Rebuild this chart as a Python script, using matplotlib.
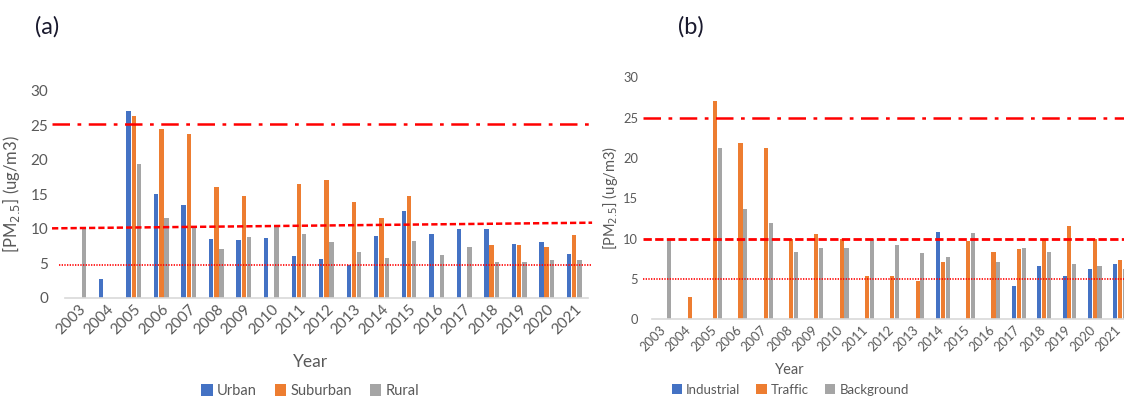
import numpy as np
import matplotlib
matplotlib.use("Agg")
import matplotlib.pyplot as plt
import matplotlib.transforms as mtransforms

plt.rcParams['font.family'] = ['Lato', 'DejaVu Sans']

years = [str(y) for y in range(2003, 2022)]
nan = np.nan

# Panel (a)
urban = [nan, 2.7, 27.0, 15.0, 13.4, 8.5, 8.3, 8.7, 6.1, 5.6, 4.7, 9.0, 12.6, 9.2, 10.0, 10.0, 7.8, 8.0, 6.3]
suburban = [nan, nan, 26.3, 24.5, 23.7, 16.1, 14.7, nan, 16.5, 17.0, 13.9, 11.5, 14.7, nan, nan, 7.6, 7.6, 7.3, 9.1]
rural = [10.0, nan, 19.4, 11.5, 10.3, 7.1, 8.8, 10.4, 9.3, 8.1, 6.6, 5.8, 8.2, 6.2, 7.4, 5.2, 5.2, 5.5, 5.4]

# Panel (b)
industrial = [nan, nan, nan, nan, nan, nan, nan, nan, nan, nan, nan, 10.8, nan, nan, 4.1, 6.6, 5.4, 6.2, 6.9]
traffic = [nan, 2.8, 27.1, 21.8, 21.2, 10.0, 10.6, 10.0, 5.4, 5.4, 4.7, 7.1, 9.7, 8.3, 8.7, 9.9, 11.6, 9.9, 7.3]
background = [10.0, nan, 21.2, 13.7, 11.9, 8.3, 8.9, 8.9, 10.0, 9.2, 8.2, 7.7, 10.7, 7.1, 8.8, 8.3, 6.9, 6.6, 6.2]

# Reference levels (a: slight tilt of the 10 line as drawn)
ref_a_dashdot = 25.2
ref_a_dash = (10.05, 10.87)
ref_a_dot = 4.7
ref_b = [25.0, 10.0, 5.0]

BLUE = '#4472C4'
ORANGE = '#ED7D31'
GRAY = '#A5A5A5'
TXT = '#595959'

fig = plt.figure(figsize=(11.24, 3.99), dpi=100)
axa = fig.add_axes([0.0578, 0.2539, 0.4653, 0.5188])
axb = fig.add_axes([0.580, 0.1997, 0.4277, 0.6065])

x = np.arange(len(years))


def style(ax, fs, pad, shift=0.0):
    ax.set_ylim(0, 30)
    ax.set_xlim(-0.5, len(years) - 0.5)
    ax.set_yticks([0, 5, 10, 15, 20, 25, 30])
    for s in ['top', 'right', 'left']:
        ax.spines[s].set_visible(False)
    ax.spines['bottom'].set_color('#d9d9d9')
    ax.spines['bottom'].set_linewidth(1.2)
    ax.tick_params(axis='both', length=0, colors=TXT, labelsize=fs)
    ax.tick_params(axis='y', pad=pad)
    ax.set_xticks(x)
    ax.set_xticklabels(years, rotation=45, ha='right', rotation_mode='anchor')
    if shift:
        offset = mtransforms.ScaledTranslation(shift / 100.0, 0, fig.dpi_scale_trans)
        for lab in ax.get_xticklabels():
            lab.set_transform(lab.get_transform() + offset)


w = 0.16
off = 0.19
# Panel (a)
b1 = axa.bar(x - off, urban, w, color=BLUE, label='Urban')
b2 = axa.bar(x, suburban, w, color=ORANGE, label='Suburban')
b3 = axa.bar(x + off, rural, w, color=GRAY, label='Rural')
style(axa, 11, 12)
xl, xr = -0.97, 18.65
axa.plot([xl, xr], [ref_a_dashdot, ref_a_dashdot], color='red', lw=1.8,
         linestyle=(0, (7, 3, 1.5, 3)), clip_on=False)
axa.plot([xl, xr], list(ref_a_dash), color='red', lw=1.8,
         linestyle=(0, (2.5, 1.2)), clip_on=False)
axa.plot([-0.7, xr], [ref_a_dot, ref_a_dot], color='red', lw=1.2,
         linestyle=(0, (0.8, 0.8)), clip_on=False)
axa.set_ylabel('[PM$_{2.5}$] (ug/m3)', color=TXT, fontsize=12, labelpad=6)
fig.text(0.276, 0.093, 'Year', color=TXT, fontsize=12.5, ha='center', va='center')
fig.legend(handles=[b1, b2, b3], labels=['Urban', 'Suburban', 'Rural'], loc='center',
           bbox_to_anchor=(0.276, 0.02), ncol=3, frameon=False, fontsize=10.5,
           handlelength=0.8, handleheight=0.8, handletextpad=0.3, columnspacing=1.2,
           labelcolor=TXT)
fig.text(0.031, 0.932, '(a)', fontsize=17, color='#1a1a2e', ha='left', va='center')

# Panel (b)
c1 = axb.bar(x - off, industrial, w, color=BLUE, label='Industrial')
c2 = axb.bar(x, traffic, w, color=ORANGE, label='Traffic')
c3 = axb.bar(x + off, background, w, color=GRAY, label='Background')
style(axb, 9.3, 10, shift=-5)
bl, br = -0.85, 18.5
axb.plot([bl, br], [ref_b[0]] * 2, color='red', lw=1.8,
         linestyle=(0, (7, 3, 1.5, 3)), clip_on=False)
axb.plot([bl, br], [ref_b[1]] * 2, color='red', lw=2.0,
         linestyle=(0, (3, 1.2)), clip_on=False)
axb.plot([bl, br], [ref_b[2]] * 2, color='red', lw=1.2,
         linestyle=(0, (0.8, 0.8)), clip_on=False)
axb.set_ylabel('[PM$_{2.5}$] (ug/m3)', color=TXT, fontsize=10.5, labelpad=2)
fig.text(0.703, 0.073, 'Year', color=TXT, fontsize=10.5, ha='center', va='center')
fig.legend(handles=[c1, c2, c3], labels=['Industrial', 'Traffic', 'Background'], loc='center',
           bbox_to_anchor=(0.703, 0.023), ncol=3, frameon=False, fontsize=9.5,
           handlelength=0.8, handleheight=0.8, handletextpad=0.3, columnspacing=1.2,
           labelcolor=TXT)
fig.text(0.603, 0.932, '(b)', fontsize=17, color='#1a1a2e', ha='left', va='center')

fig.savefig('out.png', dpi=100)
